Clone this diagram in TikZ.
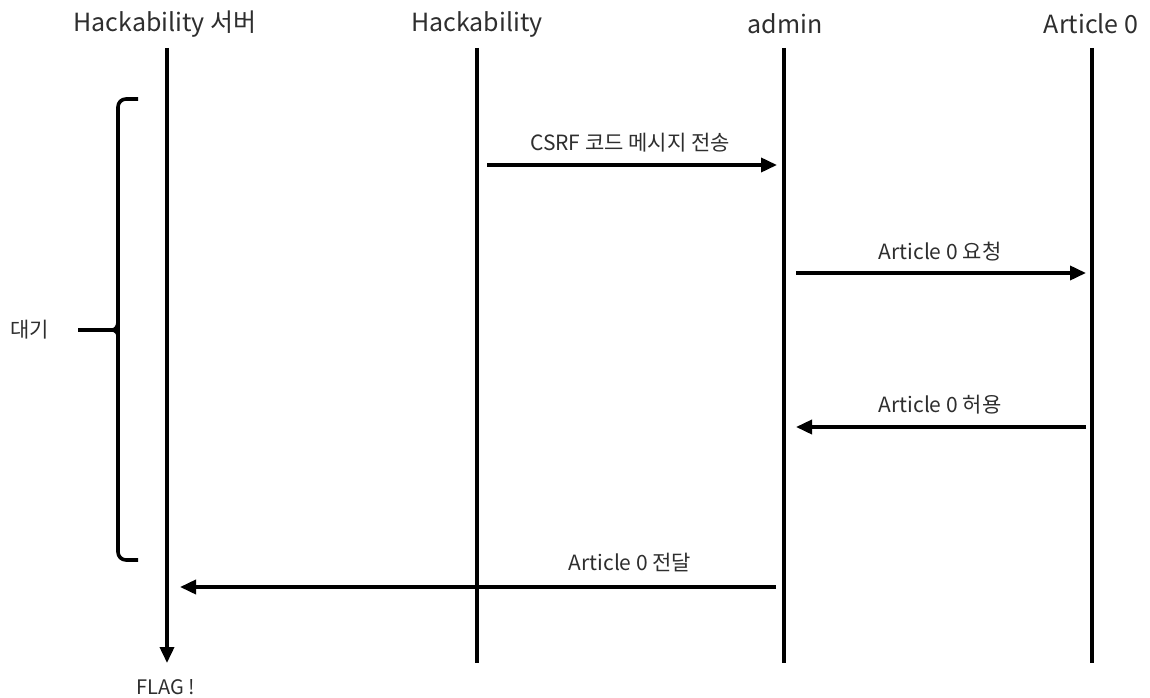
\documentclass[tikz,border=0pt]{standalone}
\usepackage{fontspec}
\setmainfont{Noto Sans CJK KR}
\usetikzlibrary{arrows.meta}
\begin{document}
\begin{tikzpicture}[x=1pt,y=-1pt,
  lifeline/.style={line width=3.6pt},
  msg/.style={line width=3.6pt,-{Triangle[length=16pt,width=14pt]}},
  hdr/.style={font=\fontsize{25}{28}\selectfont,text=black!82,inner sep=0pt},
  lbl/.style={font=\fontsize{21}{24}\selectfont,text=black!82,inner sep=0pt},
  brk/.style={line width=3.6pt,line cap=butt}]
\useasboundingbox (0,0) rectangle (1150,698);
% headers
\node[hdr] (h1) at (165,24) {Hackability 서버};
\node[hdr] (h2) at (477,24) {Hackability};
\node[hdr] (h3) at (785,24) {admin};
\node[hdr] (h4) at (1091,24) {Article 0};
% lifelines
\coordinate (t1) at (167,48); \coordinate (b1) at (167,663);
\coordinate (t2) at (477,48); \coordinate (b2) at (477,663);
\coordinate (t3) at (784,48); \coordinate (b3) at (784,663);
\coordinate (t4) at (1092,48); \coordinate (b4) at (1092,663);
\draw[msg] (t1) -- (b1);
\draw[lifeline] (t2) -- (b2);
\draw[lifeline] (t3) -- (b3);
\draw[lifeline] (t4) -- (b4);
\node[lbl,font=\fontsize{20}{23}\selectfont] (flag) at (166,687) {FLAG !};
% messages
\coordinate (m1s) at (487,165); \coordinate (m1e) at (777,165);
\draw[msg] (m1s) -- (m1e);
\node[lbl] (l1) at (630,143) {CSRF 코드 메시지 전송};
\coordinate (m2s) at (796,273); \coordinate (m2e) at (1086,273);
\draw[msg] (m2s) -- (m2e);
\node[lbl] (l2) at (940,252) {Article 0 요청};
\coordinate (m3s) at (1086,427); \coordinate (m3e) at (796,427);
\draw[msg] (m3s) -- (m3e);
\node[lbl] (l3) at (940,405) {Article 0 허용};
\coordinate (m4s) at (776,587); \coordinate (m4e) at (180,587);
\draw[msg] (m4s) -- (m4e);
\node[lbl] (l4) at (630,563) {Article 0 전달};
% bracket
\coordinate (bt) at (138,99); \coordinate (bb) at (138,560);
\coordinate (bm) at (78,330);
\draw[brk] (bt) -- (126,99) to[out=180,in=90] (118,107) -- (118,322) to[out=-90,in=0] (112,330) -- (bm);
\draw[brk] (118,322) -- (118,552) to[out=-90,in=180] (126,560) -- (bb);
\draw[brk] (118,336) to[out=90,in=0] (112,330);
\node[lbl] (wait) at (30,330) {대기};
\end{tikzpicture}
\end{document}
